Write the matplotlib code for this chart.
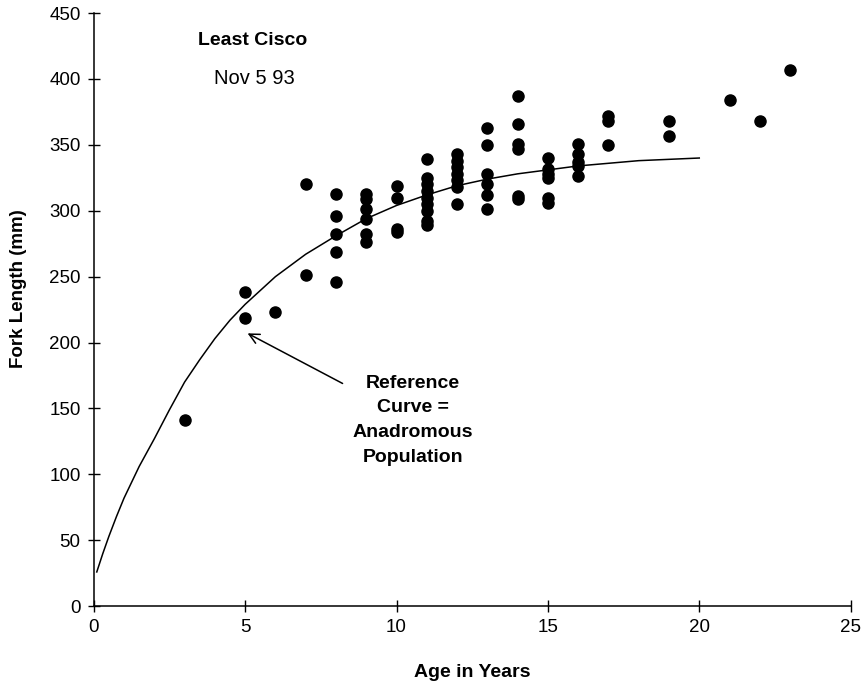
import numpy as np
import matplotlib.pyplot as plt

plt.rcParams['font.family'] = ['Liberation Sans', 'DejaVu Sans']

# observed fish: age (years) and fork length (mm)
age = [3,
       5, 5,
       6,
       7, 7,
       8, 8, 8, 8, 8,
       9, 9, 9, 9, 9, 9,
       10, 10, 10, 10,
       11, 11, 11, 11, 11, 11, 11, 11, 11,
       12, 12, 12, 12, 12, 12, 12,
       13, 13, 13, 13, 13, 13,
       14, 14, 14, 14, 14, 14,
       15, 15, 15, 15, 15, 15,
       16, 16, 16, 16, 16,
       17, 17, 17,
       19, 19,
       21, 22, 23]
fork_length = [141,
               238, 219,
               223,
               320, 251,
               313, 296, 282, 269, 246,
               313, 309, 301, 294, 282, 276,
               319, 310, 286, 284,
               339, 325, 320, 315, 310, 305, 300, 292, 289,
               343, 338, 333, 328, 323, 318, 305,
               363, 350, 328, 320, 312, 301,
               387, 366, 351, 347, 311, 309,
               340, 332, 328, 325, 310, 306,
               351, 343, 337, 334, 326,
               372, 368, 350,
               368, 357,
               384, 368, 407]

# reference curve (anadromous population)
ref_age = [0.1, 0.3, 0.5, 0.75, 1.0, 1.5, 2.0, 2.5, 3.0, 3.5, 4.0, 4.5, 5.0,
           6.0, 7.0, 8.0, 9.0, 10.0, 11.0, 12.0, 13.0, 14.0, 15.0, 16.0,
           17.0, 18.0, 19.0, 20.0]
ref_length = [26, 40, 53, 68, 82, 106, 127, 149, 170, 187, 203, 217, 229,
              250, 267, 281, 294, 304, 312, 319, 324, 328, 331, 334,
              336, 338, 339, 340]

fig = plt.figure(figsize=(8.68, 6.85), dpi=100)
ax = fig.add_axes([0.108, 0.115, 0.872, 0.866])

ax.plot(ref_age, ref_length, color='black', linewidth=1.1)
ax.plot(age, fork_length, 'o', color='black', markersize=8)

# arrow pointing at the reference curve
ax.annotate('', xy=(5.0, 208), xytext=(8.3, 168),
            arrowprops=dict(arrowstyle='->', color='black', lw=1.1,
                            mutation_scale=18))
ax.text(10.55, 141, 'Reference\nCurve =\nAnadromous\nPopulation',
        ha='center', va='center', fontsize=14, fontweight='bold',
        linespacing=1.6)

ax.text(5.25, 429, 'Least Cisco', ha='center', va='center',
        fontsize=14, fontweight='bold')
ax.text(5.3, 400, 'Nov 5 93', ha='center', va='center', fontsize=14.5)

ax.set_xlim(0, 25)
ax.set_ylim(0, 450)
ax.set_xticks(np.arange(0, 26, 5))
ax.set_yticks(np.arange(0, 451, 50))
ax.tick_params(direction='inout', length=9, width=1, labelsize=13.5, pad=5)
for s in ['top', 'right']:
    ax.spines[s].set_visible(False)
for s in ['left', 'bottom']:
    ax.spines[s].set_linewidth(1.1)

ax.set_xlabel('Age in Years', fontsize=14, fontweight='bold', labelpad=20)
ax.set_ylabel('Fork Length (mm)', fontsize=13.5, fontweight='bold')
ax.yaxis.set_label_coords(-0.088, 0.535)

plt.savefig('out.png', dpi=100)
